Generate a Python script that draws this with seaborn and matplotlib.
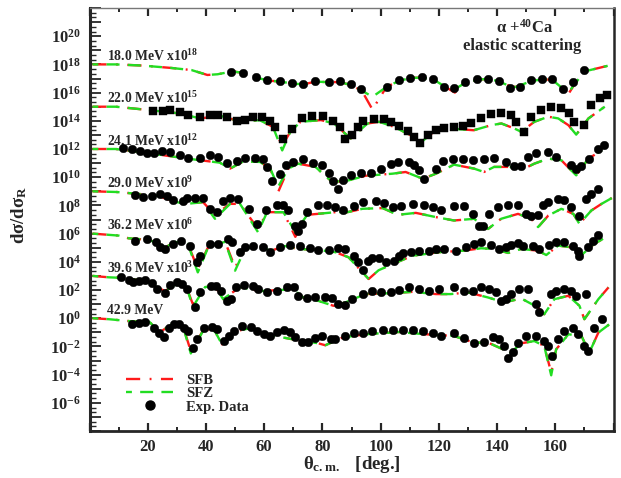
import math
import matplotlib
matplotlib.use("Agg")
import matplotlib.pyplot as plt
import seaborn as sns
from matplotlib.lines import Line2D
from matplotlib.ticker import FixedLocator, FuncFormatter, MultipleLocator

# ── 데이터: log10(dσ/dσR), 각 에너지별 (스케일 인자 제외) ─────────────
ENERGY_LABELS = ["18.0 MeV x10$^{18}$", "22.0 MeV x10$^{15}$", "24.1 MeV x10$^{12}$",
                 "29.0 MeV x10$^{9}$", "36.2 MeV x10$^{6}$", "39.6 MeV x10$^{3}$", "42.9 MeV"]
SCALE_EXP = [18, 15, 12, 9, 6, 3, 0]

# 18.0 MeV
th18 = [1, 9, 18, 28, 35, 40.5, 44, 49, 53, 57.5, 61, 65.5, 69.5, 73.5, 77.5, 82, 86, 89.5, 93.5, 97.2,
        102, 106, 110, 114, 118, 121.5, 125.5, 129, 133, 137, 140.5, 144.5, 146.5, 151.5, 155.5, 159,
        162.5, 164.5, 166.5, 170, 178]
sfb18 = [0, 0, -0.08, -0.25, -0.4, -0.75, -0.7, -0.5, -0.6, -0.93, -1.14, -1.22, -1.35, -1.42, -1.22,
         -1.26, -1.25, -1.45, -1.85, -3.2, -1.6, -1.2, -0.97, -0.93, -1.05, -1.5, -2.0, -1.32, -1.1,
         -1.02, -1.2, -1.55, -1.6, -1.2, -1.05, -1.1, -1.7, -2.1, -1.45, -0.5, -0.1]
sfz18 = [0, 0, -0.08, -0.25, -0.4, -0.75, -0.7, -0.5, -0.6, -0.93, -1.14, -1.22, -1.35, -1.42, -1.22,
         -1.26, -1.25, -1.45, -1.85, -2.3, -1.6, -1.2, -0.97, -0.93, -1.05, -1.5, -1.75, -1.32, -1.1,
         -1.02, -1.2, -1.55, -1.6, -1.2, -1.05, -1.1, -1.7, -2.0, -1.45, -0.5, -0.1]
ang18 = [48.5, 52.8, 57.2, 61, 65.5, 69.7, 73.4, 77.6, 82.1, 85.9, 89.7, 93.4, 102.1, 106.2, 110, 114.1,
         117.9, 121.7, 125.2, 129, 133.1, 136.9, 140.7, 144.5, 147.9, 151.7, 155.5, 159, 162.8, 166.2, 170]
exp18 = [-0.52, -0.64, -0.9, -1.14, -1.19, -1.3, -1.42, -1.19, -1.23, -1.19, -1.37, -1.78, -1.57, -1.14,
         -0.93, -0.9, -1.0, -1.57, -1.64, -1.28, -1.07, -1.0, -1.21, -1.64, -1.57, -1.14, -1.0, -1.07,
         -1.78, -1.28, -0.43]

# 22.0 MeV
th22 = [1, 9, 21, 31, 38, 45, 51.5, 58.5, 63, 66.2, 69, 72.5, 79.5, 84, 89.7, 95.5, 99.5, 104.5, 110.3,
        113.8, 118.3, 124, 132, 138, 141.5, 146, 148.3, 152.8, 157.6, 161, 164.5, 167.2, 171.4, 177]
sfb22 = [0, 0, -0.25, -0.48, -0.83, -0.65, -1.03, -0.96, -1.43, -2.75, -1.78, -1.07, -0.95, -1.19, -2.26,
         -1.19, -1.07, -1.42, -2.02, -2.54, -1.78, -1.55, -1.67, -1.31, -1.19, -1.55, -1.78, -1.07, -0.71,
         -0.83, -1.31, -1.98, -0.83, 0.0]
sfz22 = [0, 0, -0.25, -0.48, -0.83, -0.65, -1.03, -0.96, -1.43, -3.1, -1.78, -1.07, -0.95, -1.19, -2.26,
         -1.19, -1.07, -1.42, -2.02, -2.54, -1.78, -1.55, -1.67, -1.31, -1.19, -1.55, -1.78, -1.07, -0.71,
         -0.83, -1.31, -1.98, -0.83, 0.0]
ang22 = [21.7, 25.2, 27.6, 31, 33.8, 37.9, 41.4, 44.1, 47.2, 50.7, 53.4, 56.2, 59.3, 62.1, 63.8, 66.6,
         69.7, 73.1, 76.6, 80.3, 83.8, 86.2, 87.9, 90, 92.1, 94.1, 97.6, 101, 103.4, 106.2, 109.3, 111.4,
         113.4, 116.2, 119, 121.7, 125.2, 128.3, 131, 134.5, 137.9, 141.4, 144.8, 146.6, 149.3, 151.7,
         155.2, 158.6, 162.1, 164.8, 166.6, 170, 172.4, 175.2, 177.6]
exp22 = [-0.29, -0.29, -0.2, -0.36, -0.6, -0.76, -0.6, -0.6, -0.76, -1.0, -0.95, -0.71, -0.71, -1.03,
         -1.43, -2.31, -1.55, -0.79, -0.64, -0.64, -1.03, -1.47, -2.26, -2.02, -1.43, -1.03, -0.84, -0.89,
         -1.07, -1.36, -1.74, -2.14, -2.55, -2.02, -1.67, -1.48, -1.43, -1.39, -1.19, -0.83, -0.55, -0.48,
         -0.6, -1.07, -1.78, -0.71, -0.25, 0.0, -0.12, -0.48, -1.07, -1.31, 0.11, 0.59, 0.82]

# 24.1 MeV
th24 = [1, 9, 19.7, 36.2, 44.8, 48.3, 52.8, 58.6, 62.1, 64.8, 68.3, 71.7, 77.6, 82.8, 86.9, 94.8, 104.1,
        108.6, 114.5, 119, 125.2, 132.1, 135.5, 139, 145.9, 149.3, 152.8, 157.6, 162.1, 165.5, 167.2,
        171.4, 176]
sfb24 = [0, 0, -0.28, -0.75, -0.97, -1.39, -0.88, -0.92, -1.39, -3.05, -1.39, -1.04, -1.27, -2.23, -2.34,
         -1.9, -1.75, -1.63, -2.11, -1.75, -1.11, -1.39, -1.63, -1.27, -1.27, -1.39, -1.04, -0.68, -0.8,
         -1.52, -1.87, -0.68, -0.09]
sfz24 = [0, 0, -0.28, -0.75, -0.97, -1.39, -0.88, -0.92, -1.39, -2.68, -1.39, -1.04, -1.27, -2.23, -2.34,
         -1.9, -1.75, -1.63, -2.11, -1.75, -1.11, -1.39, -1.63, -1.27, -1.27, -1.39, -1.04, -0.68, -0.8,
         -1.52, -1.87, -0.68, -0.09]
ang24 = [11.4, 14.5, 17.2, 19.7, 22.1, 24.8, 27.6, 31, 33.8, 37.9, 41.4, 44.1, 47.2, 50.7, 53.4, 56.9,
         59.7, 61, 62.8, 65.5, 67.6, 70, 73.4, 76.9, 80, 82.1, 83.8, 85.5, 87.2, 89.7, 93.1, 96.6, 100,
         103.4, 105.9, 109.7, 111.4, 113.1, 114.8, 119, 121.4, 124.8, 128.3, 131.7, 135.5, 139, 143.1,
         145.9, 148.3, 150.7, 153.4, 157.6, 160.3, 165.5, 167.2, 169, 171.7, 174.8, 176.9]
exp24 = [0.1, 0.03, -0.14, -0.26, -0.26, -0.14, -0.21, -0.45, -0.63, -0.63, -0.45, -0.56, -0.99, -0.85,
         -0.61, -0.61, -0.73, -1.27, -2.3, -1.8, -1.16, -0.92, -0.73, -0.99, -1.16, -1.68, -2.3, -2.87,
         -2.23, -1.82, -1.68, -1.68, -1.39, -1.09, -0.92, -0.92, -1.16, -1.52, -2.11, -1.44, -0.85, -0.68,
         -0.73, -0.8, -0.68, -0.61, -0.92, -1.2, -1.2, -0.56, -0.26, -0.21, -0.56, -1.16, -1.39, -1.23,
         -0.68, 0.03, 0.31]

# 29.0 MeV
th29 = [1, 9.3, 23, 30, 33.4, 39, 43.1, 48.3, 51.7, 57.9, 61, 66.6, 70.7, 74.8, 84.5, 88.6, 93.8, 100.7,
        105.9, 112.1, 119, 125.2, 132.1, 136.9, 141.4, 147.2, 151.7, 154.1, 157.6, 162.1, 166.2, 168.3,
        172.4, 175.9, 180]
sfb29 = [0, -0.05, -0.3, -0.77, -0.89, -0.77, -1.67, -0.89, -0.89, -2.67, -1.48, -1.48, -3.23, -1.67,
         -1.48, -1.48, -1.24, -1.19, -1.67, -1.53, -1.83, -2.07, -1.95, -2.67, -1.95, -1.6, -1.95, -2.54,
         -1.72, -1.24, -1.6, -2.31, -1.36, -0.89, -0.41]
sfz29 = [0, -0.05, -0.3, -0.77, -0.89, -0.77, -1.95, -0.89, -0.89, -2.9, -1.48, -1.48, -2.88, -1.67,
         -1.48, -1.48, -1.24, -1.19, -1.67, -1.53, -1.83, -2.07, -1.95, -2.67, -1.95, -1.6, -1.95, -2.54,
         -1.72, -1.24, -1.6, -2.31, -1.36, -0.89, -0.41]
ang29 = [15.5, 18.3, 21.4, 24.1, 26.6, 28.6, 32.1, 33.4, 36.2, 39, 41.4, 43.8, 45.9, 48.3, 51, 54.8, 57.6,
         60.7, 64.5, 66.6, 68.3, 70.7, 71.7, 73.1, 74.8, 78.6, 81.7, 84.5, 87.2, 90.7, 93.8, 98.3, 101,
         104.1, 106.9, 111, 114.8, 117.9, 120.7, 125.2, 128.6, 131.7, 133.8, 135.2, 137.2, 140.3, 143.8,
         147.2, 150, 151.7, 154.1, 155.9, 157.6, 161, 163.1, 165.5, 168.3, 170.7, 172.4, 174.8]
exp29 = [-0.25, -0.37, -0.3, -0.22, -0.3, -0.6, -0.72, -0.46, -0.46, -0.46, -1.24, -1.48, -0.72, -0.48,
         -0.53, -1.24, -2.31, -1.36, -1.0, -0.94, -1.36, -2.43, -2.83, -2.31, -1.48, -1.0, -1.0, -1.12,
         -1.36, -1.05, -0.77, -0.72, -0.81, -1.12, -1.05, -0.89, -1.0, -1.12, -1.36, -1.05, -1.05, -1.6,
         -2.43, -2.43, -1.6, -1.12, -1.0, -1.0, -1.6, -1.72, -1.67, -1.0, -0.77, -0.53, -0.65, -1.12,
         -1.72, -0.53, -0.17, 0.18]

# 36.2 MeV
th36 = [1, 10, 13.4, 20.7, 25.9, 29.3, 33.8, 37.2, 41, 46.6, 50, 53.4, 57.9, 62.1, 67.2, 71.7, 78.6, 84.5,
        89, 95.9, 99.3, 104.1, 111, 120, 128.6, 134.5, 139, 143.8, 148.3, 154.1, 156.9, 161, 165.5, 169,
        173.4, 178.3]
sfb36 = [0, -0.14, -0.33, -0.45, -1.0, -0.59, -0.73, -2.5, -0.85, -0.59, -2.4, -1.09, -0.8, -1.23, -0.88,
         -1.09, -1.16, -1.32, -1.68, -3.22, -2.6, -2.16, -1.57, -1.32, -1.21, -1.04, -1.09, -1.37, -1.09,
         -1.21, -1.52, -0.85, -0.97, -1.52, -0.73, -0.14]
sfz36 = [0, -0.14, -0.33, -0.45, -1.0, -0.59, -0.73, -2.75, -0.85, -0.59, -2.63, -1.09, -0.8, -1.23, -0.88,
         -1.09, -1.16, -1.32, -1.68, -3.22, -2.6, -2.16, -1.57, -1.32, -1.21, -1.04, -1.09, -1.37, -1.09,
         -1.21, -1.52, -0.85, -0.97, -1.52, -0.73, -0.14]
ang36 = [15.5, 19.6, 23, 24.1, 25.9, 28.6, 31.6, 34.5, 36.8, 37.9, 41.4, 44.1, 47.6, 48.9, 51.7, 53.4,
         56.2, 59.7, 62.1, 65.5, 69, 72.4, 75.9, 78.6, 82.1, 85.2, 87.9, 90.7, 92.1, 93.8, 95.5, 97.2, 99.3,
         101.7, 104.5, 106.2, 107.6, 110.3, 113.1, 116.6, 119, 121.7, 125.9, 129.3, 132.1, 134.5, 137.9,
         140.7, 143.1, 144.8, 147.2, 149, 152.4, 154.5, 157.9, 160.3, 163.1, 166.2, 167.9, 168.3, 171.4,
         173.1, 174.8]
exp36 = [-0.5, -0.38, -0.61, -0.97, -1.09, -0.73, -0.5, -0.85, -2.04, -1.57, -0.73, -0.73, -0.38, -0.61,
         -1.32, -0.97, -0.85, -0.97, -1.28, -0.97, -0.8, -0.85, -1.04, -1.14, -1.14, -1.04, -1.09, -1.57,
         -2.04, -2.58, -1.92, -1.75, -1.75, -2.04, -1.92, -1.57, -1.37, -1.28, -1.21, -1.21, -1.09, -1.09,
         -1.21, -0.97, -0.73, -0.61, -0.8, -1.09, -0.97, -0.8, -0.66, -0.85, -0.85, -1.09, -0.8, -0.61,
         -0.57, -0.85, -1.21, -1.57, -0.97, -0.5, -0.09]

# 39.6 MeV
th39 = [1, 6.6, 12.1, 19, 25.9, 30.3, 33.8, 35.5, 39.7, 43.1, 45.9, 51.7, 58.6, 65.5, 70, 73.4, 78.6, 83.8,
        87.9, 94.8, 104.1, 111, 119, 124.1, 130, 136.9, 142.4, 148.3, 154.1, 156.2, 159.7, 164.5, 168.3,
        170, 174.8, 178.3]
sfb39 = [0, -0.1, -0.15, -0.37, -1.08, -0.51, -1.08, -2.0, -0.79, -0.72, -1.65, -0.79, -1.08, -1.0, -0.94,
         -1.53, -1.77, -2.12, -1.88, -1.29, -1.22, -1.13, -1.29, -1.29, -1.17, -1.53, -1.88, -1.6, -2.24,
         -2.72, -1.65, -1.41, -2.12, -3.07, -1.65, -0.81]
sfz39 = [0, -0.1, -0.15, -0.37, -1.08, -0.51, -1.08, -2.2, -0.79, -0.72, -1.65, -0.79, -1.08, -1.0, -0.94,
         -1.53, -1.77, -2.12, -1.88, -1.29, -1.22, -1.13, -1.29, -1.29, -1.17, -1.53, -1.88, -1.6, -2.24,
         -2.72, -1.65, -1.41, -2.12, -3.07, -1.65, -0.81]
ang39 = [10.9, 13.4, 14.9, 16.9, 19.2, 21.4, 23.2, 26.1, 27.8, 30.1, 31.8, 33.6, 36.4, 37.9, 41.6, 43.3,
         45.1, 47.3, 48.5, 50.2, 53.1, 56, 58, 60.9, 64.4, 67.8, 70.1, 71.7, 74.8, 77.6, 81, 83.4, 85.2,
         87.9, 90.3, 93.8, 97.2, 100, 103.4, 106.2, 109.7, 113.1, 116.6, 120, 125.2, 128.6, 131.7, 134.5,
         137.2, 139.7, 141.4, 143.1, 144.8, 147.6, 150.7, 153.4, 154.5, 158.6, 160.3, 163.1, 165.5, 167.2,
         170.7]
exp39 = [-0.06, -0.3, -0.46, -0.35, -0.3, -0.51, -0.94, -1.24, -0.65, -0.46, -0.58, -0.94, -2.24, -1.17,
         -0.74, -0.7, -1.06, -1.77, -1.65, -0.81, -0.65, -0.74, -0.94, -1.17, -1.06, -0.81, -0.81, -1.41,
         -1.6, -1.53, -1.53, -1.6, -2.0, -2.07, -1.65, -1.29, -1.06, -1.13, -1.13, -0.99, -0.81, -0.94,
         -1.06, -0.94, -0.81, -1.06, -1.06, -0.81, -0.94, -1.17, -1.77, -1.65, -1.29, -0.94, -0.94, -2.0,
         -2.59, -1.29, -1.06, -0.94, -1.06, -1.41, -1.29]

# 42.9 MeV
th42 = [1, 6.6, 13.8, 20.7, 24.1, 28.3, 32.1, 34.8, 39.3, 43.1, 45.5, 50, 55.2, 60.3, 69.7, 78.6, 81, 86.9,
        94.8, 106.2, 115.5, 125.2, 132.1, 136.9, 142.1, 144.1, 148.3, 152.8, 156.2, 158.6, 160.3, 164.5,
        169, 171.7, 174.8, 178.6]
sfb42 = [0, -0.07, -0.21, -0.28, -1.0, -0.43, -0.57, -2.33, -0.78, -0.93, -1.85, -0.93, -0.71, -1.14,
         -1.49, -1.78, -1.92, -1.37, -1.14, -0.98, -1.14, -1.26, -1.73, -1.73, -2.21, -2.56, -1.78, -1.62,
         -1.97, -3.86, -2.21, -1.14, -1.26, -2.44, -1.02, -0.43]
sfz42 = [0, -0.07, -0.21, -0.28, -1.0, -0.43, -0.57, -2.5, -0.78, -0.93, -1.85, -0.93, -0.71, -1.14,
         -1.49, -1.78, -1.92, -1.37, -1.14, -0.98, -1.14, -1.26, -1.73, -1.73, -2.21, -2.56, -1.78, -1.62,
         -1.97, -4.05, -2.21, -1.14, -1.26, -2.44, -1.02, -0.43]
ang42 = [14.6, 16.9, 19.2, 22.1, 23.8, 25.5, 27.2, 29, 30.7, 32.4, 33.9, 35.6, 37, 39.3, 42.2, 43.9, 46.2,
         47.9, 49.7, 52.5, 55.4, 57.7, 60, 62.1, 64.4, 66.7, 69, 70.7, 73.1, 75.2, 77.6, 80, 82.8, 84.5,
         87.9, 90.7, 93.8, 97.2, 100.7, 104.1, 107.6, 111, 114.5, 117.9, 120.7, 125.2, 128.6, 132.1, 135.5,
         138.6, 140.7, 142.4, 143.8, 145.5, 147.2, 150, 153.4, 156.2, 157.6, 159, 161, 163.1, 166.2, 167.9,
         170, 171.4, 173.4, 175.9]
exp42 = [-0.38, -0.36, -0.26, -0.66, -1.02, -1.3, -0.66, -0.43, -0.43, -0.66, -0.9, -2.09, -1.49, -0.66,
         -0.62, -0.78, -1.62, -1.26, -0.9, -0.55, -0.62, -0.9, -1.14, -1.26, -0.98, -0.83, -1.0, -1.3,
         -1.69, -1.69, -1.37, -1.26, -1.49, -1.49, -1.26, -1.02, -1.02, -0.9, -0.83, -0.83, -0.83, -0.83,
         -0.9, -1.02, -1.26, -1.07, -1.37, -1.73, -1.69, -1.3, -1.44, -1.97, -2.8, -2.4, -1.78, -1.26,
         -1.26, -1.62, -1.97, -2.68, -1.49, -0.9, -0.66, -1.14, -1.97, -2.33, -0.66, -0.07]

THETA_TH = [th18, th22, th24, th29, th36, th39, th42]
SFB = [sfb18, sfb22, sfb24, sfb29, sfb36, sfb39, sfb42]
SFZ = [sfz18, sfz22, sfz24, sfz29, sfz36, sfz39, sfz42]
THETA_EXP = [ang18, ang22, ang24, ang29, ang36, ang39, ang42]
EXP = [exp18, exp22, exp24, exp29, exp36, exp39, exp42]
MARKERS = ["o", "s", "o", "o", "o", "o", "o"]
MARKER_SIZE = [38, 32, 38, 38, 38, 38, 38]

RED = "#ff1a1a"
GREEN = "#22dd22"
LS_SFB = (0, (6, 4, 0.8, 4))
LS_SFZ = (3, (5.5, 3.5))

# ── 스타일 ────────────────────────────────────────────────
sns.set_style("ticks")
plt.rcParams["font.family"] = ["Liberation Serif", "DejaVu Serif"]
plt.rcParams["font.weight"] = "bold"
plt.rcParams["mathtext.fontset"] = "custom"
plt.rcParams["mathtext.rm"] = "Liberation Serif:bold"
plt.rcParams["mathtext.bf"] = "Liberation Serif:bold"
plt.rcParams["mathtext.it"] = "Liberation Serif:italic:bold"
plt.rcParams["mathtext.default"] = "bf"

fig = plt.figure(figsize=(6.21, 4.78), dpi=100)
ax = fig.add_axes([89.5 / 621, 47 / 478, 524 / 621, 423 / 478])
ax.set_yscale("log")

for lab, k, th, sfb, sfz, ang, ex, mk, ms in zip(ENERGY_LABELS, SCALE_EXP, THETA_TH, SFB, SFZ,
                                                  THETA_EXP, EXP, MARKERS, MARKER_SIZE):
    f = 10.0 ** k
    sns.lineplot(x=th, y=[f * 10 ** v for v in sfb], ax=ax, color=RED, linewidth=1.7,
                 linestyle=LS_SFB, sort=False, estimator=None, legend=False, zorder=2)
    sns.lineplot(x=th, y=[f * 10 ** v for v in sfz], ax=ax, color=GREEN, linewidth=1.7,
                 linestyle=LS_SFZ, sort=False, estimator=None, legend=False, zorder=3)
    sns.scatterplot(x=ang, y=[f * 10 ** v for v in ex], ax=ax, color="black", marker=mk,
                    s=ms, edgecolor="black", linewidth=0.3, legend=False, zorder=4)
    ax.text(6, f * 10 ** 0.58, lab, fontsize=9.8, fontweight="bold", ha="left", va="center")

ax.set_xlim(0, 180)
ax.set_ylim(1e-8, 1e22)


def ylab(v, pos):
    e = round(math.log10(v))
    if e % 2 == 0 and -6 <= e <= 20:
        return "$10^{%d}$" % e
    return ""


def xlab(v, pos):
    return "%d" % v if 10 < v < 170 else ""


# 축 눈금
ax.yaxis.set_major_locator(FixedLocator([10.0 ** e for e in range(-8, 23)]))
ax.yaxis.set_minor_locator(FixedLocator([10.0 ** (e + s) for e in range(-8, 22) for s in (1 / 3, 2 / 3)]))
ax.yaxis.set_major_formatter(FuncFormatter(ylab))
ax.xaxis.set_major_locator(MultipleLocator(20))
ax.xaxis.set_minor_locator(MultipleLocator(10))
ax.xaxis.set_major_formatter(FuncFormatter(xlab))
ax.tick_params(axis="y", which="major", direction="in", length=8, width=1.3, labelsize=12, pad=6)
ax.tick_params(axis="y", which="minor", direction="in", length=4, width=1.0)
ax.tick_params(axis="x", which="major", direction="in", length=6, width=1.6, labelsize=12, pad=6, top=True)
ax.tick_params(axis="x", which="minor", direction="in", length=3, width=1.4, top=True)

for side, lw in [("left", 2.2), ("bottom", 2.0), ("right", 1.8), ("top", 1.0)]:
    ax.spines[side].set_linewidth(lw)
    ax.spines[side].set_visible(True)
ax.spines["top"].set_color("#777777")

ax.set_xlabel("θ$_{c.m.}$   [deg.]", fontsize=13.5, fontweight="bold")
ax.xaxis.set_label_coords(0.5, -0.055)
ax.set_ylabel("dσ/dσ$_{R}$", fontsize=13.5, fontweight="bold")
ax.yaxis.set_label_coords(-0.115, 0.51)

ax.text(0.83, 0.953, "α +$^{40}$Ca", transform=ax.transAxes, fontsize=12,
        fontweight="bold", ha="center", va="center")
ax.text(0.825, 0.911, "elastic scattering", transform=ax.transAxes, fontsize=12,
        fontweight="bold", ha="center", va="center")

handles = [
    Line2D([], [], color=RED, linewidth=1.7, linestyle=LS_SFB),
    Line2D([], [], color=GREEN, linewidth=1.7, linestyle=LS_SFZ),
    Line2D([], [], color="black", marker="o", markersize=6.5, linestyle="none"),
]
ax.legend(handles, ["SFB", "SFZ", "Exp. Data"], loc="upper left", bbox_to_anchor=(0.07, 0.135),
          frameon=False, fontsize=10.5, labelspacing=0.0, handlelength=3.2, handletextpad=0.9,
          borderpad=0, borderaxespad=0)

fig.savefig("out.png", dpi=100)
